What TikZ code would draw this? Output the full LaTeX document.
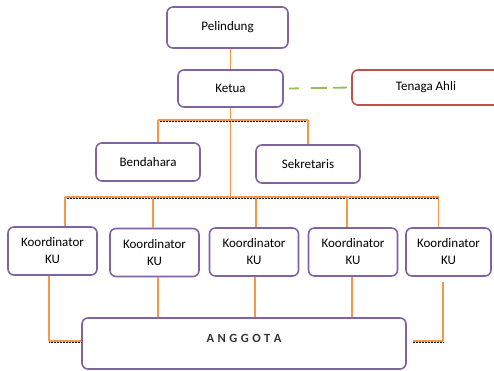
\documentclass[tikz,border=0pt]{standalone}
\usepackage{fontspec}
\setmainfont{Carlito}
\usepackage{xcolor}
\definecolor{boxpurple}{HTML}{8064A2}
\definecolor{lineorange}{HTML}{F79646}
\definecolor{ahlired}{HTML}{C0504D}
\definecolor{ahligreen}{HTML}{9BBB59}

\begin{document}
\begin{tikzpicture}[x=1pt,y=-1pt,
	box/.style={draw=boxpurple, line width=1.6pt, rounded corners=6pt, fill=white,
		align=center, inner sep=0pt, font=\fontsize{13}{17}\selectfont},
	kubox/.style={box, minimum width=89pt, minimum height=48pt},
	conn/.style={draw=lineorange, line width=1.8pt},
	bus/.style={conn, postaction={draw=black, densely dotted, line width=0.5pt,
		transform canvas={yshift=-1.6pt}}}]
	
	\clip (0,0) rectangle (494,371);
	
	\coordinate (upbus) at (0,120);
	\coordinate (lobus) at (0,197);
	\coordinate (angy) at (0,341);
	
	\node[box, minimum width=121pt, minimum height=41pt] (pel) at (227.5,27.5) {Pelindung};
	\node[box, minimum width=105pt, minimum height=37pt] (ketua) at (230.5,88.5) {Ketua};
	\node[box, draw=ahlired, minimum width=148pt, minimum height=35pt] (ahli) at (426,87.5) {Tenaga Ahli};
	
	\node[box, minimum width=104pt, minimum height=38pt] (bend) at (148,162) {Bendahara};
	\node[box, minimum width=104pt, minimum height=38pt] (sekr) at (308,164) {Sekretaris};
	
	\node[kubox] (k1) at (52.5,251) {Koordinator\\KU};
	\node[kubox] (k2) at (154.5,252.5) {Koordinator\\KU};
	\node[kubox] (k3) at (254,252) {Koordinator\\KU};
	\node[kubox] (k4) at (353,252) {Koordinator\\KU};
	\node[kubox, minimum width=85pt] (k5) at (448.5,252) {Koordinator\\KU};
	
	\node[box, minimum width=324pt, minimum height=51pt, text depth=11pt, text=black!80,
		font=\bfseries\fontsize{12.5}{15}\selectfont] (ang) at (244,343.5)
		{A\hspace{3.5pt}N\hspace{3.5pt}G\hspace{3.5pt}G\hspace{3.5pt}O\hspace{3.5pt}T\hspace{3.5pt}A};
	
	\draw[conn] (pel.south -| ketua.north) -- (ketua.north);
	\draw[ahligreen, line width=1.8pt, dash pattern=on 10pt off 12pt on 16pt off 6pt on 14pt off 40pt]
		([xshift=5pt]ketua.east) -- (ahli.west);
	
	\draw[conn] (ketua.south) -- (ketua.south |- lobus);
	\draw[bus] ([xshift=10pt]bend.north |- upbus) -- (sekr.north |- upbus);
	\draw[conn] ([xshift=10pt]bend.north |- upbus) -- ([xshift=10pt]bend.north);
	\draw[conn] (sekr.north |- upbus) -- (sekr.north);
	
	\draw[bus] ([xshift=12.5pt]k1.north |- lobus) -- ([xshift=-10pt]k5.north |- lobus);
	\draw[conn] ([xshift=12.5pt]k1.north |- lobus) -- ([xshift=12.5pt]k1.north);
	\draw[conn] ([xshift=-1.5pt]k2.north |- lobus) -- ([xshift=-1.5pt]k2.north);
	\draw[conn] ([xshift=2pt]k3.north |- lobus) -- ([xshift=2pt]k3.north);
	\draw[conn] ([xshift=-6pt]k4.north |- lobus) -- ([xshift=-6pt]k4.north);
	\draw[conn] ([xshift=-10pt]k5.north |- lobus) -- ([xshift=-10pt]k5.north);
	
	\draw[conn] ([xshift=-3.5pt]k1.south) -- ([xshift=-3.5pt]k1.south |- angy);
	\draw[bus] ([xshift=-3.5pt]k1.south |- angy) -- (ang.west |- angy);
	\draw[conn] ([xshift=3.5pt]k2.south) -- ([xshift=3.5pt]k2.south |- ang.north);
	\draw[conn] ([xshift=1pt]k3.south) -- ([xshift=1pt]k3.south |- ang.north);
	\draw[conn] ([xshift=-1pt]k4.south) -- ([xshift=-1pt]k4.south |- ang.north);
	\draw[conn] ([xshift=-5.5pt,yshift=-5pt]k5.south) -- ([xshift=-5.5pt]k5.south |- angy);
	\draw[bus] ([xshift=-5.5pt]k5.south |- angy) -- ([xshift=6pt]ang.east |- angy);
	
\end{tikzpicture}
\end{document}
